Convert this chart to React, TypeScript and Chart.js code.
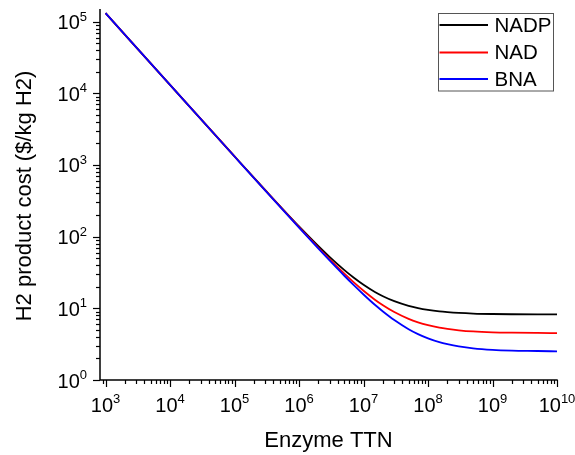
import React, { useEffect, useRef } from "react";
import { Chart, registerables } from "chart.js";

Chart.register(...registerables);

// ---- data ----
const ttn = [1e3, 1e4, 1e5, 3e5, 1e6, 2e6, 3e6, 5e6, 7e6, 1e7, 1.5e7, 2e7, 3e7, 5e7, 7e7, 1e8, 1.5e8, 2e8, 3e8, 5e8, 1e9, 2e9, 5e9, 1e10];
const nadp = [131000, 13100, 1318, 445, 139, 73.7, 51.9, 34.4, 26.9, 21.3, 16.9, 14.75, 12.57, 10.82, 10.07, 9.51, 9.07, 8.86, 8.64, 8.46, 8.33, 8.27, 8.23, 8.21];
const nad = [131000, 13100, 1314, 441, 135.5, 70, 48.2, 30.7, 23.2, 17.6, 13.2, 11.05, 8.87, 7.12, 6.37, 5.81, 5.37, 5.16, 4.94, 4.76, 4.63, 4.57, 4.53, 4.51];
const bna = [131000, 13100, 1312, 439, 133.5, 68, 46.2, 28.7, 21.2, 15.6, 11.2, 9.05, 6.87, 5.12, 4.37, 3.81, 3.37, 3.16, 2.94, 2.76, 2.63, 2.57, 2.54, 2.51];

const seriesNames = ["NADP", "NAD", "BNA"];
const seriesColors = ["#000000", "#ff0000", "#0000ff"];

const xTickExps = [3, 4, 5, 6, 7, 8, 9, 10];
const yTickExps = [0, 1, 2, 3, 4, 5];
const xTitle = "Enzyme TTN";
const yTitle = "H2 product cost ($/kg H2)";

const FONT = "'Liberation Sans', Arial, sans-serif";

function drawPow(ctx: CanvasRenderingContext2D, exp: number, x: number, baseline: number, align: "center" | "right") {
  ctx.font = `20px ${FONT}`;
  const wb = ctx.measureText("10").width;
  ctx.font = `13px ${FONT}`;
  const we = ctx.measureText(String(exp)).width;
  const total = wb + we;
  const start = align === "center" ? x - total / 2 : x - total;
  ctx.textAlign = "left";
  ctx.textBaseline = "alphabetic";
  ctx.font = `20px ${FONT}`;
  ctx.fillText("10", start, baseline);
  ctx.font = `13px ${FONT}`;
  ctx.fillText(String(exp), start + wb, baseline - 8.5);
}

const axesPlugin = {
  id: "originAxes",
  afterDraw(chart: any) {
    const ctx: CanvasRenderingContext2D = chart.ctx;
    const { left, right, top, bottom } = chart.chartArea;
    const xs = chart.scales.x;
    const ys = chart.scales.y;
    ctx.save();
    ctx.strokeStyle = "#000";
    ctx.fillStyle = "#000";
    ctx.lineWidth = 1.5;
    ctx.beginPath();
    ctx.moveTo(left, top);
    ctx.lineTo(left, bottom);
    ctx.lineTo(right + 0.7, bottom);
    ctx.stroke();

    ctx.lineWidth = 1.2;
    // x ticks
    for (let e = xTickExps[0] - 1; e <= xTickExps[xTickExps.length - 1]; e++) {
      for (let m = 1; m <= 9; m++) {
        const v = m * Math.pow(10, e);
        if (v < xs.min * 0.999 || v > xs.max * 1.001) continue;
        const px = Math.round(xs.getPixelForValue(v)) + 0.5;
        const len = m === 1 ? 7 : 4;
        ctx.beginPath();
        ctx.moveTo(px, bottom);
        ctx.lineTo(px, bottom + len);
        ctx.stroke();
      }
    }
    // y ticks
    for (let e = yTickExps[0]; e <= yTickExps[yTickExps.length - 1]; e++) {
      for (let m = 1; m <= 9; m++) {
        const v = m * Math.pow(10, e);
        if (v < ys.min * 0.999 || v > ys.max * 1.001) continue;
        const py = Math.round(ys.getPixelForValue(v)) + 0.5;
        const len = m === 1 ? 7 : 4;
        ctx.beginPath();
        ctx.moveTo(left, py);
        ctx.lineTo(left - len, py);
        ctx.stroke();
      }
    }
    // tick labels
    for (const e of xTickExps) {
      const px = xs.getPixelForValue(Math.pow(10, e));
      drawPow(ctx, e, px, bottom + 31.5, "center");
    }
    for (const e of yTickExps) {
      const py = ys.getPixelForValue(Math.pow(10, e));
      drawPow(ctx, e, left - 13, py + 7.5, "right");
    }
    // titles
    ctx.font = `22px ${FONT}`;
    ctx.textAlign = "center";
    ctx.textBaseline = "alphabetic";
    ctx.fillText(xTitle, (left + right) / 2, 447);
    ctx.save();
    ctx.translate(31, 196);
    ctx.rotate(-Math.PI / 2);
    ctx.fillText(yTitle, 0, 0);
    ctx.restore();

    // legend
    const bx = 438.5, by = 13.5, bw = 115, bh = 77.5;
    ctx.strokeStyle = "#555";
    ctx.lineWidth = 1;
    ctx.strokeRect(bx, by, bw, bh);
    const rows = [25, 52.5, 79];
    ctx.font = `20.5px ${FONT}`;
    ctx.textAlign = "left";
    ctx.textBaseline = "middle";
    chart.data.datasets.forEach((ds: any, i: number) => {
      ctx.strokeStyle = ds.borderColor;
      ctx.lineWidth = 1.8;
      ctx.beginPath();
      ctx.moveTo(bx + 1, rows[i]);
      ctx.lineTo(488, rows[i]);
      ctx.stroke();
      ctx.fillStyle = "#000";
      ctx.fillText(ds.label, 494.5, rows[i] + 1);
    });
    ctx.restore();
  },
};

export default function App() {
  const ref = useRef<HTMLCanvasElement | null>(null);
  useEffect(() => {
    if (!ref.current) return;
    const seriesData = [nadp, nad, bna];
    const chart = new Chart(ref.current, {
      type: "line",
      data: {
        datasets: seriesNames.map((name, i) => ({
          label: name,
          data: ttn.map((x, j) => ({ x, y: seriesData[i][j] })),
          borderColor: seriesColors[i],
          backgroundColor: seriesColors[i],
          borderWidth: 1.8,
          pointRadius: 0,
          order: seriesNames.length - 1 - i,
          cubicInterpolationMode: "monotone" as const,
          fill: false,
        })),
      },
      options: {
        animation: false,
        responsive: false,
        devicePixelRatio: 1,
        layout: { padding: { left: 100, right: 18, top: 9, bottom: 75 } },
        plugins: { legend: { display: false }, tooltip: { enabled: false }, title: { display: false } },
        scales: {
          x: { type: "logarithmic", min: 820, max: 1e10, display: false },
          y: { type: "logarithmic", min: 1, max: 150000, display: false },
        },
      },
      plugins: [axesPlugin],
    });
    return () => chart.destroy();
  }, []);
  return (
    <div style={{ position: "absolute", left: 0, top: 0, width: 575, height: 455, background: "#fff" }}>
      <canvas ref={ref} width={575} height={455} style={{ width: 575, height: 455 }} />
    </div>
  );
}
